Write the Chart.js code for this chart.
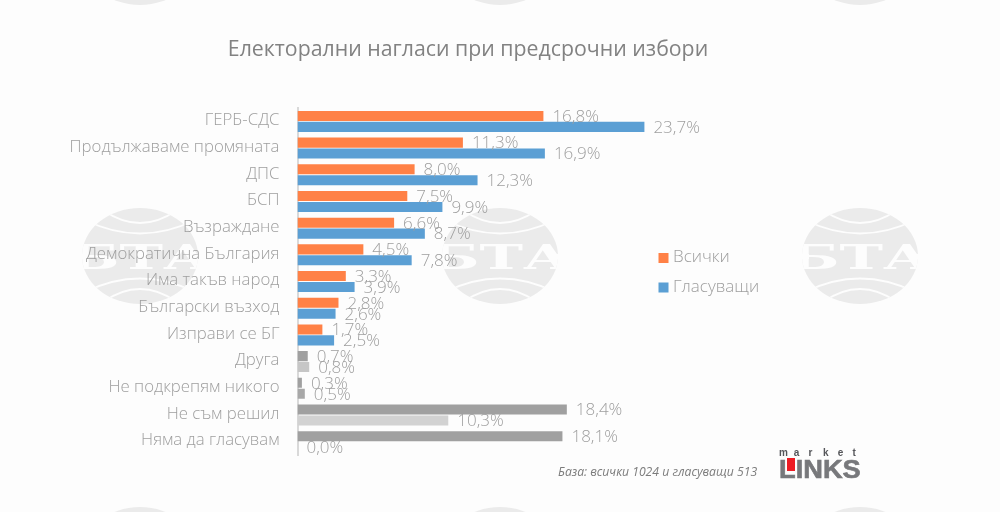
<!DOCTYPE html>
<html><head><meta charset="utf-8">
<style>html,body{margin:0;padding:0;background:#fdfdfd;overflow:hidden}#w{position:relative;width:1000px;height:512px}</style>
<script src="https://cdn.jsdelivr.net/npm/chart.js@4"></script>
</head><body><div id="w"><canvas id="c" width="1000" height="512"></canvas></div>
<script>
const titleText = 'Електорални нагласи при предсрочни избори';
const footnote = 'База: всички 1024 и гласуващи 513';
const categories = ['ГЕРБ-СДС','Продължаваме промяната','ДПС','БСП','Възраждане','Демократична България','Има такъв народ','Български възход','Изправи се БГ','Друга','Не подкрепям никого','Не съм решил','Няма да гласувам'];
const seriesNames = ['Всички','Гласуващи'];
const allValues = [16.8,11.3,8.0,7.5,6.6,4.5,3.3,2.8,1.7,0.7,0.3,18.4,18.1];
const voterValues = [23.7,16.9,12.3,9.9,8.7,7.8,3.9,2.6,2.5,0.8,0.5,10.3,0.0];
const allColors = [...Array(9).fill('#ff8146'),'#a0a0a0','#a0a0a0','#a0a0a0','#a0a0a0'];
const voterColors = [...Array(9).fill('#5b9fd4'),'#c6c6c6','#a8a8a8','#d2d2d2','#d2d2d2'];
const FONT = '"Open Sans"';
const GREY = '#9e9e9e';

function badge(ctx,cx,cy){
  ctx.save();
  ctx.beginPath();ctx.ellipse(cx,cy,58,48,0,0,Math.PI*2);ctx.clip();
  ctx.fillStyle='#ebebeb';ctx.fillRect(cx-58,cy-48,116,96);
  ctx.strokeStyle='#fdfdfd';ctx.lineWidth=1.8;
  [[37,46,20],[55,36,9]].forEach(([dx,end,ctrl])=>{
    [-1,1].forEach(s=>{
      ctx.beginPath();ctx.moveTo(cx-dx,cy+s*end);ctx.quadraticCurveTo(cx,cy+s*ctrl,cx+dx,cy+s*end);ctx.stroke();
    });
  });
  ctx.fillStyle='#fdfdfd';
  ctx.fillRect(cx-58,cy-2,7,5);ctx.fillRect(cx+51,cy-2,7,5);
  ctx.translate(cx,cy+12.5);ctx.scale(1.72,1);
  ctx.font='bold 34px "DejaVu Serif"';ctx.textAlign='center';ctx.textBaseline='alphabetic';
  ctx.fillText('БТА',0,0);
  ctx.restore();
}
const decor={id:'decor',
  beforeDraw(ch){
    const c=ch.ctx;c.save();c.fillStyle='#fdfdfd';c.fillRect(0,0,1000,512);
    [-43,256,555].forEach(y=>[140,500,860].forEach(x=>badge(c,x,y)));
    c.restore();
  },
  afterDraw(ch){
    const c=ch.ctx;c.save();
    // value labels
    c.font='300 17px '+FONT;c.fillStyle=GREY;c.textBaseline='middle';c.textAlign='left';
    ch.data.datasets.forEach((d,i)=>{
      ch.getDatasetMeta(i).data.forEach((el,j)=>{
        c.fillText(d.data[j].toFixed(1).replace('.',',')+'%',el.x+9,el.y+1);
      });
    });
    // legend
    const ly=[258,287.5];
    seriesNames.forEach((n,i)=>{
      c.fillStyle=ch.data.datasets[i].backgroundColor[0];
      c.fillRect(658.5,ly[i]-5,10,10);
      c.fillStyle=GREY;c.font='300 17px '+FONT;
      c.fillText(n,673,ly[i]-(i==0?1:0));
    });
    // footnote
    c.font='italic 12.2px '+FONT;c.fillStyle='#7c7c7c';c.fillText(footnote,558,473);
    // logo
    c.fillStyle='#55565a';c.font='bold 10px "Liberation Sans"';
    'market'.split('').forEach((k,i)=>c.fillText(k,779+i*14.7,453));
    c.fillStyle='#77787b';
    c.font='bold 25px "Liberation Sans"';c.textBaseline='alphabetic';
    c.save();c.translate(779,477.5);c.scale(1.09,1.02);c.lineWidth=0.6;c.strokeStyle='#77787b';c.strokeText('LINKS',0,0);c.fillText('LINKS',0,0);c.restore();
    c.fillStyle='#ed1c24';c.fillRect(787,458,8,13);
    c.restore();
  }
};
new Chart(document.getElementById('c'),{
  type:'bar',
  data:{labels:categories,datasets:[
    {label:seriesNames[0],data:allValues,backgroundColor:allColors,categoryPercentage:0.82,barPercentage:0.92},
    {label:seriesNames[1],data:voterValues,backgroundColor:voterColors,categoryPercentage:0.82,barPercentage:0.92}
  ]},
  options:{
    indexAxis:'y',responsive:false,animation:false,devicePixelRatio:1,
    layout:{padding:{left:0,right:64,top:0,bottom:57}},
    plugins:{
      legend:{display:false},tooltip:{enabled:false},
      title:{display:true,text:titleText,color:'#828282',font:{family:FONT,size:21.3,weight:'400',lineHeight:1.2},padding:{top:37.5,bottom:45}}
    },
    scales:{
      x:{display:false,min:0,max:43.62},
      y:{
        afterFit(s){s.width=297.5;},
        grid:{display:false,drawTicks:false},
        border:{display:true,color:'#d9d9d9',width:2},
        ticks:{color:GREY,padding:18,labelOffset:-1,autoSkip:false,font:{family:FONT,size:16.8,weight:'300'}}
      }
    }
  },
  plugins:[decor]
});
</script></body></html>
